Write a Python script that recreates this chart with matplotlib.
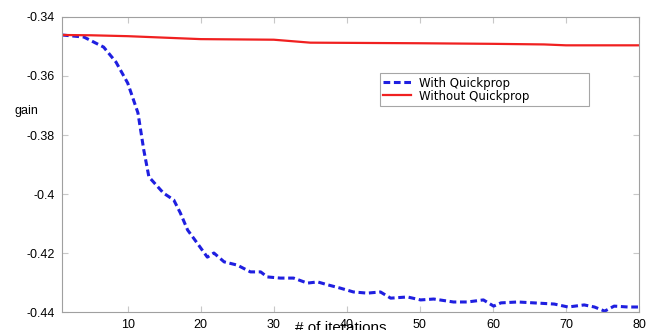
import matplotlib.pyplot as plt

# blue dashed curve (with quickprop)
x_qp = [1, 4, 6.7, 8.4, 10, 11.4, 12.2, 12.9, 14.9, 16.3, 17.2, 18.2, 19.5,
        20.9, 21.8, 23.2, 25, 26.8, 28.2, 29.1, 30.9, 32.7, 34.6, 36, 37.4,
        39.1, 40.9, 42.8, 44.6, 46, 48.3, 50.1, 51.9, 54.6, 56.5, 58.7, 60.1,
        61.1, 63.4, 65.6, 68.4, 70.3, 72.5, 73.9, 75.3, 76.6, 78.5, 80]
y_qp = [-0.3461, -0.3468, -0.3502, -0.3553, -0.3624, -0.3725, -0.3851,
        -0.3942, -0.3997, -0.4020, -0.4064, -0.4122, -0.4166, -0.4214,
        -0.4200, -0.4230, -0.4241, -0.4264, -0.4264, -0.4281, -0.4285,
        -0.4285, -0.4302, -0.4298, -0.4308, -0.4319, -0.4332, -0.4336,
        -0.4332, -0.4353, -0.4349, -0.4359, -0.4356, -0.4366, -0.4366,
        -0.4359, -0.4380, -0.4369, -0.4366, -0.4369, -0.4373, -0.4383,
        -0.4376, -0.4383, -0.4397, -0.4380, -0.4383, -0.4383]

# red solid curve (without quickprop)
x_noqp = [1, 5, 10, 15, 20, 25, 30, 33, 35, 50, 60, 67, 70, 80]
y_noqp = [-0.3461, -0.3462, -0.3465, -0.3470, -0.3475, -0.3476, -0.3477,
          -0.3483, -0.3487, -0.3489, -0.3491, -0.3493, -0.3496, -0.3496]

xticks = [10, 20, 30, 40, 50, 60, 70, 80]
yticks = [-0.44, -0.42, -0.4, -0.38, -0.36, -0.34]
ytick_labels = ["-0.44", "-0.42", "-0.4", "-0.38", "-0.36", "-0.34"]

plt.rcParams['font.family'] = ['Liberation Sans', 'DejaVu Sans']

fig = plt.figure(figsize=(6.47, 3.30), dpi=100)
ax = fig.add_axes([0.0958, 0.0545, 0.8918, 0.894])

ax.plot(x_qp, y_qp, color="#1f1fe0", lw=2.2, ls=(0, (2.2, 1.2)),
        label="With Quickprop")
ax.plot(x_noqp, y_noqp, color="#f02020", lw=1.6, label="Without Quickprop")

ax.set_xlim(1, 80)
ax.set_ylim(-0.44, -0.34)
ax.set_xticks(xticks)
ax.set_yticks(yticks)
ax.set_yticklabels(ytick_labels)
ax.tick_params(direction="in", top=True, right=True, color="#c8c8c8",
               labelsize=9, length=4, pad=5)
for s in ax.spines.values():
    s.set_color("#a0a0a0")

fig.text(0.022, 0.665, "gain", fontsize=9, ha="left", va="center")
fig.text(0.527, 0.027, "# of iterations", fontsize=11, ha="center", va="top")

# legend box stretched to the width seen in the reference
leg = ax.legend(loc="upper left", bbox_to_anchor=(0.551, 0.5, 0.362, 0.31),
                mode="expand", borderaxespad=0,
                prop={"family": "DejaVu Sans", "size": 8.5},
                frameon=True, fancybox=False, handlelength=2.3,
                borderpad=0.3, labelspacing=0.0, handletextpad=0.7)
leg.get_frame().set_edgecolor("#909090")
leg.get_frame().set_linewidth(0.8)

fig.savefig("out.png", dpi=100)
